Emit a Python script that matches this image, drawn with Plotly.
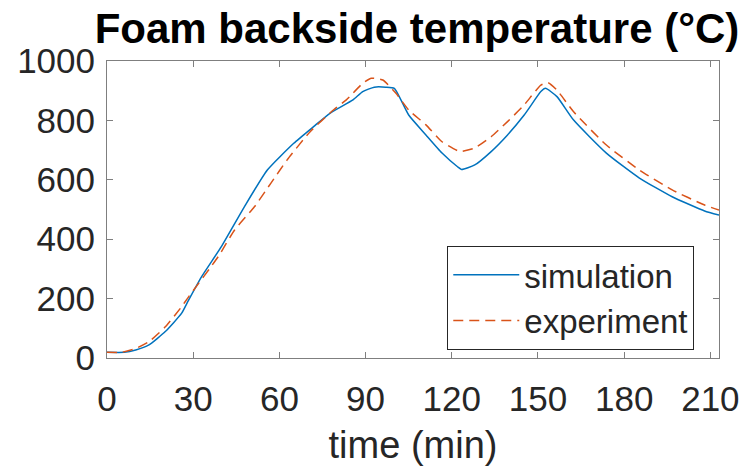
import plotly.graph_objects as go

# Data
t_sim = [0, 6, 10, 14.6, 20.3, 26, 28.4, 33, 39.8, 47.8, 55.8, 65, 71.9, 77.6, 85.6, 89,
         93, 97, 100, 105, 111, 116.6, 122, 123.4, 128, 133.7, 139.4, 145.2, 151, 152.6,
         156.6, 162.4, 173.8, 185.3, 196.7, 208, 213]
sim = [19, 19, 27, 44, 89, 151, 195, 275, 375, 509, 633, 723, 779, 824, 869, 897,
       912, 912, 908, 818, 751, 690, 644, 635, 650, 695, 751, 818, 897, 908,
       880, 801, 690, 606, 543, 495, 481]

t_exp = [0, 5, 10, 14.6, 20.3, 26, 28.4, 38.7, 44.4, 51.3, 57, 62.7, 70.7, 78.8, 83.3, 89,
         92, 96, 100.5, 105, 111, 116.6, 122, 123, 128, 133.7, 139.4, 145.2, 151, 153.5,
         156.6, 162.4, 173.8, 185.3, 196.7, 208, 213]
exp = [19, 19, 32, 55, 105, 173, 206, 341, 431, 509, 588, 667, 762, 835, 869, 925,
       942, 936, 892, 835, 785, 728, 698, 695, 707, 745, 796, 852, 919, 927,
       902, 829, 717, 633, 566, 515, 498]

x_ticks = [0, 30, 60, 90, 120, 150, 180, 210]
y_ticks = [0, 200, 400, 600, 800, 1000]

FONT = "Arial, Liberation Sans, sans-serif"
AX = "#262626"

fig = go.Figure()
fig.add_trace(go.Scatter(x=t_sim, y=sim, mode="lines", name="simulation",
                         line=dict(color="#0072BD", width=1.5, shape="spline", smoothing=0.5)))
fig.add_trace(go.Scatter(x=t_exp, y=exp, mode="lines", name="experiment",
                         line=dict(color="#D95319", width=1.5, dash="10px,6px",
                                   shape="spline", smoothing=0.5)))

axis_common = dict(showgrid=False, zeroline=False, showline=True, linecolor="#7f7f7f",
                   linewidth=1, mirror="ticks", ticks="inside", ticklen=6,
                   tickcolor="#7f7f7f", tickfont=dict(family=FONT, size=35, color=AX))

fig.update_layout(
    width=751, height=472,
    margin=dict(l=107, r=24, t=61, b=114),
    paper_bgcolor="white", plot_bgcolor="white",
    title=dict(text="<b>Foam backside temperature (°C)</b>",
               font=dict(family=FONT, size=42, color="black"),
               x=(107 + 727) / 2 / 751, xanchor="center",
               y=1 - 28 / 472, yanchor="middle"),
    xaxis=dict(range=[0, 213], tickvals=x_ticks, ticktext=[str(v) for v in x_ticks],
               ticklabelstandoff=10,
               title=dict(text="time (min)", font=dict(family=FONT, size=38, color=AX),
                          standoff=14),
               **axis_common),
    yaxis=dict(range=[0, 1000], tickvals=y_ticks, ticktext=[str(v) for v in y_ticks],
               ticklabelstandoff=4,
               **axis_common),
    legend=dict(x=0.556, y=0.378, xanchor="left", yanchor="top",
                bgcolor="white", bordercolor=AX, borderwidth=1,
                font=dict(family=FONT, size=33, color=AX),
                tracegroupgap=0, itemwidth=66),
    showlegend=True,
)

fig.write_html("out.html")
